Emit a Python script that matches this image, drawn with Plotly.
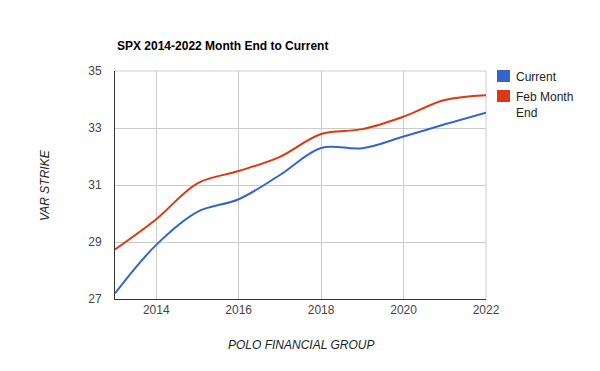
import plotly.graph_objects as go

years = [2013, 2014, 2015, 2016, 2017, 2018, 2019, 2020, 2021, 2022]
current = [27.2, 28.9, 30.06, 30.5, 31.35, 32.3, 32.29, 32.7, 33.13, 33.54]
feb_month_end = [28.74, 29.8, 31.06, 31.49, 31.99, 32.79, 32.96, 33.4, 33.98, 34.15]
y_ticks = [27, 29, 31, 33, 35]
x_ticks = [2014, 2016, 2018, 2020, 2022]
series_names = ["Current", "Feb Month<br>End"]

BLUE = "#3366cc"
RED = "#dc3912"
FONT = "Liberation Sans, Arial, sans-serif"
W, H = 600, 371
L, R, T, B = 115, 114, 71, 72

fig = go.Figure()
for vals, col, name in [(current, BLUE, series_names[0]), (feb_month_end, RED, series_names[1])]:
    fig.add_trace(go.Scatter(x=years, y=vals, mode="lines", name=name,
                             line=dict(color=col, width=2, shape="spline", smoothing=1.0),
                             showlegend=False, hoverinfo="skip"))

def px(xp):
    return (xp - L) / (W - L - R)

def py(yp):
    return (H - B - yp) / (H - T - B)

annotations = [
    dict(text="<b>SPX 2014-2022 Month End to Current</b>", x=px(115), y=py(46), xref="paper", yref="paper",
         xanchor="left", yanchor="middle", showarrow=False, font=dict(size=12, color="#000")),
    dict(text="<i>POLO FINANCIAL GROUP</i>", x=0.5, y=py(345), xref="paper", yref="paper",
         xanchor="center", yanchor="middle", showarrow=False, font=dict(size=12, color="#222")),
    dict(text="<i>VAR STRIKE</i>", x=px(45), y=0.5, xref="paper", yref="paper", textangle=-90,
         xanchor="center", yanchor="middle", showarrow=False, font=dict(size=12, color="#222")),
]
shapes = [
    dict(type="line", xref="paper", yref="paper", x0=1, x1=1, y0=0, y1=1, line=dict(color="#cccccc", width=1), layer="below"),
    dict(type="line", xref="paper", yref="paper", x0=0, x1=1, y0=1, y1=1, line=dict(color="#cccccc", width=1), layer="below"),
]
# legend
legend_rows = [(76, BLUE, series_names[0]), (96, RED, series_names[1])]
for yc, col, name in legend_rows:
    shapes.append(dict(type="rect", xref="paper", yref="paper", x0=px(497), x1=px(510), y0=py(yc - 6), y1=py(yc + 6),
                       fillcolor=col, line=dict(width=0)))
    annotations.append(dict(text=name, x=px(514), y=py(yc - 8), xref="paper", yref="paper", xanchor="left", yanchor="top",
                            align="left", showarrow=False, font=dict(size=12, color="#222")))

fig.update_layout(
    width=W, height=H,
    margin=dict(l=L, r=R, t=T, b=B, autoexpand=False),
    paper_bgcolor="white", plot_bgcolor="white",
    font=dict(family=FONT, size=12, color="#222"),
    showlegend=False,
    annotations=annotations, shapes=shapes,
    xaxis=dict(range=[2013, 2022], tickvals=x_ticks, ticktext=[str(v) for v in x_ticks],
               showgrid=True, gridcolor="#cccccc", gridwidth=1, zeroline=False, automargin=False,
               showline=True, linecolor="#333333", linewidth=1, ticks="",
               tickfont=dict(size=12, color="#444")),
    yaxis=dict(range=[27, 35], tickvals=y_ticks, showgrid=True, gridcolor="#cccccc", gridwidth=1,
               zeroline=False, showline=True, linecolor="#333333", linewidth=1, ticks="", automargin=False,
               tickfont=dict(size=12, color="#444"), ticklabelstandoff=10),
)

fig.write_html("out.html", config={"displayModeBar": False},
               post_script="document.body.style.margin='0';")
